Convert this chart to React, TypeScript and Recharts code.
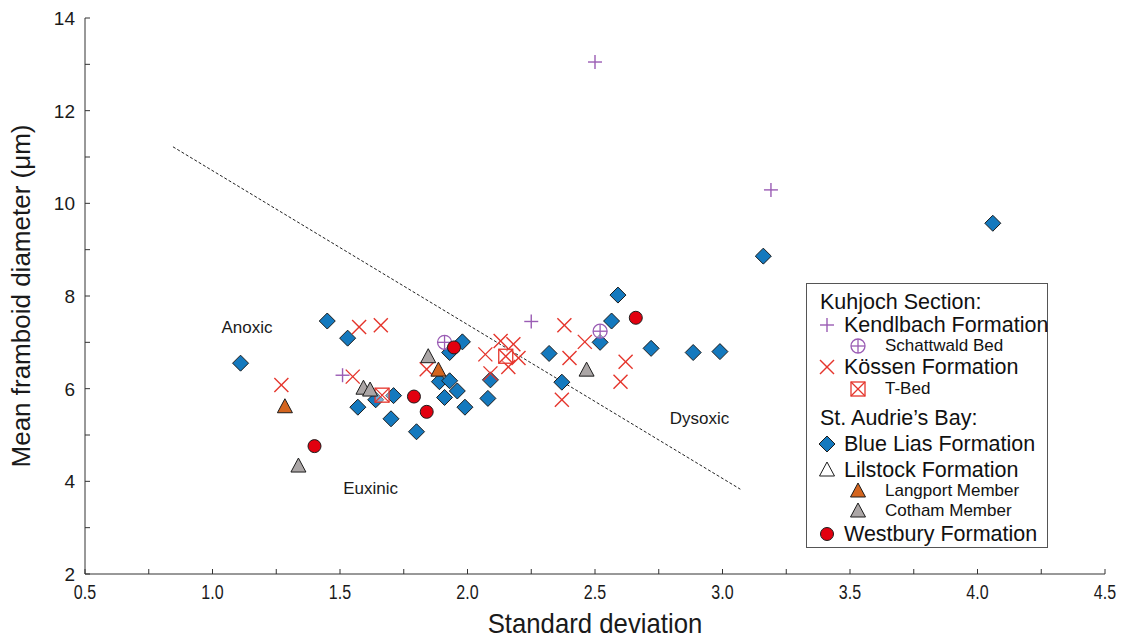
import React from "react";
import {
  ScatterChart,
  Scatter,
  XAxis,
  YAxis,
  ReferenceLine,
  ReferenceDot,
  Legend,
} from "recharts";

// Kuhjoch Section
const kendlbach = [
  { x: 1.51, y: 6.29 },
  { x: 2.25, y: 7.45 },
  { x: 2.5, y: 13.05 },
  { x: 3.19, y: 10.29 },
];
const schattwald = [
  { x: 1.91, y: 7.0 },
  { x: 2.52, y: 7.24 },
];
const kossen = [
  { x: 1.27, y: 6.08 },
  { x: 1.55, y: 6.26 },
  { x: 1.575, y: 7.33 },
  { x: 1.66, y: 7.37 },
  { x: 1.84, y: 6.42 },
  { x: 2.07, y: 6.74 },
  { x: 2.09, y: 6.33 },
  { x: 2.13, y: 7.03 },
  { x: 2.18, y: 6.96 },
  { x: 2.2, y: 6.66 },
  { x: 2.16, y: 6.47 },
  { x: 2.38, y: 7.37 },
  { x: 2.4, y: 6.66 },
  { x: 2.46, y: 7.01 },
  { x: 2.37, y: 5.76 },
  { x: 2.62, y: 6.58 },
  { x: 2.6, y: 6.15 },
];
const tBed = [
  { x: 1.665, y: 5.86 },
  { x: 2.15, y: 6.7 },
];

// St. Audrie's Bay
const blueLias = [
  { x: 1.11, y: 6.55 },
  { x: 1.45, y: 7.46 },
  { x: 1.53, y: 7.09 },
  { x: 1.57, y: 5.6 },
  { x: 1.64, y: 5.76 },
  { x: 1.71, y: 5.85 },
  { x: 1.7, y: 5.35 },
  { x: 1.8, y: 5.07 },
  { x: 1.89, y: 6.15 },
  { x: 1.93, y: 6.17 },
  { x: 1.96, y: 5.95 },
  { x: 1.91, y: 5.81 },
  { x: 1.99, y: 5.6 },
  { x: 1.93, y: 6.78 },
  { x: 1.98, y: 7.01 },
  { x: 2.09, y: 6.19 },
  { x: 2.08, y: 5.79 },
  { x: 2.32, y: 6.76 },
  { x: 2.37, y: 6.14 },
  { x: 2.52, y: 7.0 },
  { x: 2.59, y: 8.02 },
  { x: 2.565, y: 7.46 },
  { x: 2.72, y: 6.87 },
  { x: 2.885, y: 6.78 },
  { x: 2.99, y: 6.8 },
  { x: 3.16, y: 8.86 },
  { x: 4.06, y: 9.57 },
];
const langport = [
  { x: 1.284, y: 5.61 },
  { x: 1.886, y: 6.4 },
];
const cotham = [
  { x: 1.337, y: 4.33 },
  { x: 1.592, y: 6.01 },
  { x: 1.618, y: 5.97 },
  { x: 1.846, y: 6.69 },
  { x: 2.467, y: 6.4 },
];
const westbury = [
  { x: 1.4, y: 4.76 },
  { x: 1.79, y: 5.83 },
  { x: 1.84, y: 5.5 },
  { x: 1.947, y: 6.89 },
  { x: 2.66, y: 7.53 },
];

const boundaryLine = [
  { x: 0.845, y: 11.22 },
  { x: 3.07, y: 3.83 },
];
const regionLabels = [
  { x: 1.135, y: 7.33, text: "Anoxic" },
  { x: 1.62, y: 3.86, text: "Euxinic" },
  { x: 2.91, y: 5.37, text: "Dysoxic" },
];

const xTicks = [0.5, 0.75, 1, 1.25, 1.5, 1.75, 2, 2.25, 2.5, 2.75, 3, 3.25, 3.5, 3.75, 4, 4.25, 4.5];
const yTicks = [2, 3, 4, 5, 6, 7, 8, 9, 10, 11, 12, 13, 14];

const legendRows = [
  { kind: "header", label: "Kuhjoch Section:" },
  { kind: "plus", label: "Kendlbach Formation" },
  { kind: "oplus", label: "Schattwald Bed", sub: true },
  { kind: "cross", label: "Kössen Formation" },
  { kind: "tbed", label: "T-Bed", sub: true },
  { kind: "header", label: "St. Audrie\u2019s Bay:" },
  { kind: "diamond", label: "Blue Lias Formation" },
  { kind: "openTri", label: "Lilstock Formation" },
  { kind: "langport", label: "Langport Member", sub: true },
  { kind: "cotham", label: "Cotham Member", sub: true },
  { kind: "circle", label: "Westbury Formation" },
];

const PURPLE = "#9a5cb4";
const RED = "#e5352c";
const BLUE = "#1479be";
const ORANGE = "#d4651f";
const GREY = "#aba6a6";
const DOT_RED = "#e2000f";
const EDGE = "#1c1c1c";
const INK = "#1a1a1a";

// marker drawing, shared by the scatter series and the legend
const drawMarker = (kind: string, cx: number, cy: number) => {
  switch (kind) {
    case "plus":
      return (
        <g stroke={PURPLE} strokeWidth={1.4}>
          <line x1={cx - 7} x2={cx + 7} y1={cy} y2={cy} />
          <line x1={cx} x2={cx} y1={cy - 7} y2={cy + 7} />
        </g>
      );
    case "oplus":
      return (
        <g stroke={PURPLE} strokeWidth={1.3} fill="none">
          <circle cx={cx} cy={cy} r={7} fill="rgba(255,255,255,0.5)" />
          <line x1={cx - 7} x2={cx + 7} y1={cy} y2={cy} />
          <line x1={cx} x2={cx} y1={cy - 7} y2={cy + 7} />
        </g>
      );
    case "cross":
      return (
        <g stroke={RED} strokeWidth={1.4}>
          <line x1={cx - 7} x2={cx + 7} y1={cy - 7} y2={cy + 7} />
          <line x1={cx - 7} x2={cx + 7} y1={cy + 7} y2={cy - 7} />
        </g>
      );
    case "tbed":
      return (
        <g stroke={RED} strokeWidth={1.3} fill="none">
          <rect x={cx - 7} y={cy - 7} width={14} height={14} fill="rgba(255,255,255,0.4)" />
          <line x1={cx - 7} x2={cx + 7} y1={cy - 7} y2={cy + 7} />
          <line x1={cx - 7} x2={cx + 7} y1={cy + 7} y2={cy - 7} />
        </g>
      );
    case "diamond":
      return (
        <polygon
          points={`${cx},${cy - 8} ${cx + 8},${cy} ${cx},${cy + 8} ${cx - 8},${cy}`}
          fill={BLUE}
          stroke={EDGE}
          strokeWidth={1}
        />
      );
    case "openTri":
    case "langport":
    case "cotham":
      return (
        <polygon
          points={`${cx},${cy - 8} ${cx + 7.5},${cy + 6} ${cx - 7.5},${cy + 6}`}
          fill={kind === "langport" ? ORANGE : kind === "cotham" ? GREY : "#fff"}
          stroke={EDGE}
          strokeWidth={1}
        />
      );
    case "circle":
      return <circle cx={cx} cy={cy} r={6.5} fill={DOT_RED} stroke={EDGE} strokeWidth={1} />;
    default:
      return null;
  }
};

const shapeOf = (kind: string) => (props: any) => drawMarker(kind, props.cx, props.cy);

// narrow-looking tick labels, like the original's condensed font
const XTick = (props: any) => {
  const { x, y, payload } = props;
  const v = payload.value;
  const major = Math.abs(v * 2 - Math.round(v * 2)) < 1e-6;
  return (
    <g>
      <line x1={x} x2={x} y1={y} y2={y - 5} stroke="#333" />
      {major && (
        <text
          transform={`translate(${x},${y + 25}) scale(0.8,1)`}
          textAnchor="middle"
          fontSize={20}
          fill={INK}
        >
          {v.toFixed(1)}
        </text>
      )}
    </g>
  );
};

const YTick = (props: any) => {
  const { x, y, payload } = props;
  const v = payload.value;
  return (
    <g>
      <line x1={x} x2={x + 5} y1={y} y2={y} stroke="#333" />
      {v % 2 === 0 && (
        <text x={x - 10} y={y + 7} textAnchor="end" fontSize={19} fill={INK}>
          {v}
        </text>
      )}
    </g>
  );
};

const XLabel = (props: any) => {
  const vb = props.viewBox;
  const cx = vb.x + vb.width / 2;
  return (
    <text transform={`translate(${cx},${vb.y + 59}) scale(0.92,1)`} textAnchor="middle" fontSize={28} fill={INK}>
      Standard deviation
    </text>
  );
};

const rowTops = [18, 41, 62, 83, 105, 134, 160, 186, 207, 227, 250];

const renderLegend = () => (
  <div
    style={{
      position: "relative",
      width: 242,
      height: 265,
      boxSizing: "border-box",
      border: "1px solid #555",
      background: "#fff",
      color: "#111",
    }}
  >
    {legendRows.map((row, i) => {
      const cy = rowTops[i];
      const lh = row.sub ? 18 : 20;
      if (row.kind === "header") {
        return (
          <div key={i} style={{ position: "absolute", left: 13, top: cy - lh / 2, fontSize: 21.5, lineHeight: `${lh}px`, whiteSpace: "nowrap" }}>
            {row.label}
          </div>
        );
      }
      const mx = row.sub ? 51 : 20;
      return (
        <React.Fragment key={i}>
          <svg style={{ position: "absolute", left: mx - 10, top: cy - 10 }} width={20} height={20}>
            {drawMarker(row.kind, 10, 10)}
          </svg>
          <div
            style={{
              position: "absolute",
              left: row.sub ? 78 : 37,
              top: cy - lh / 2,
              fontSize: row.sub ? 17 : 21.5,
              lineHeight: `${lh}px`,
              whiteSpace: "nowrap",
            }}
          >
            {row.label}
          </div>
        </React.Fragment>
      );
    })}
  </div>
);

export default function App() {
  return (
    <div
      style={{
        position: "absolute",
        left: 0,
        top: 0,
        width: 1128,
        height: 644,
        background: "#fff",
        fontFamily: "'Liberation Sans', Arial, sans-serif",
      }}
    >
      <ScatterChart width={1128} height={644} margin={{ top: 18, right: 23, bottom: 0, left: 0 }}>
        <XAxis
          type="number"
          dataKey="x"
          domain={[0.5, 4.5]}
          ticks={xTicks}
          interval={0}
          height={70}
          tickSize={0}
          tickMargin={0}
          tickLine={false}
          tick={<XTick />}
          axisLine={{ stroke: "#333" }}
          label={{ content: XLabel }}
        />
        <YAxis
          type="number"
          dataKey="y"
          domain={[2, 14]}
          ticks={yTicks}
          interval={0}
          width={85}
          tickSize={0}
          tickMargin={0}
          tickLine={false}
          tick={<YTick />}
          axisLine={{ stroke: "#333" }}
          label={{
            value: "Mean framboid diameter (\u03bcm)",
            angle: -90,
            position: "insideLeft",
            offset: 21,
            style: { fontSize: 26, fill: INK, textAnchor: "middle" },
          }}
        />
        <ReferenceLine
          segment={boundaryLine}
          stroke="#222"
          strokeWidth={1}
          strokeDasharray="3 2"
        />
        {regionLabels.map((l) => (
          <ReferenceDot
            key={l.text}
            x={l.x}
            y={l.y}
            r={0}
            fill="none"
            stroke="none"
            label={{ value: l.text, position: "center", style: { fontSize: 17, fill: INK } }}
          />
        ))}
        <Scatter name="Blue Lias Formation" data={blueLias} shape={shapeOf("diamond")} isAnimationActive={false} />
        <Scatter name="Kössen Formation" data={kossen} shape={shapeOf("cross")} isAnimationActive={false} />
        <Scatter name="T-Bed" data={tBed} shape={shapeOf("tbed")} isAnimationActive={false} />
        <Scatter name="Kendlbach Formation" data={kendlbach} shape={shapeOf("plus")} isAnimationActive={false} />
        <Scatter name="Schattwald Bed" data={schattwald} shape={shapeOf("oplus")} isAnimationActive={false} />
        <Scatter name="Cotham Member" data={cotham} shape={shapeOf("cotham")} isAnimationActive={false} />
        <Scatter name="Langport Member" data={langport} shape={shapeOf("langport")} isAnimationActive={false} />
        <Scatter name="Westbury Formation" data={westbury} shape={shapeOf("circle")} isAnimationActive={false} />
        <Legend
          layout="horizontal"
          align="center"
          verticalAlign="middle"
          content={renderLegend}
          wrapperStyle={{ left: 806, top: 283, width: 242, height: 265 }}
        />
      </ScatterChart>
    </div>
  );
}
